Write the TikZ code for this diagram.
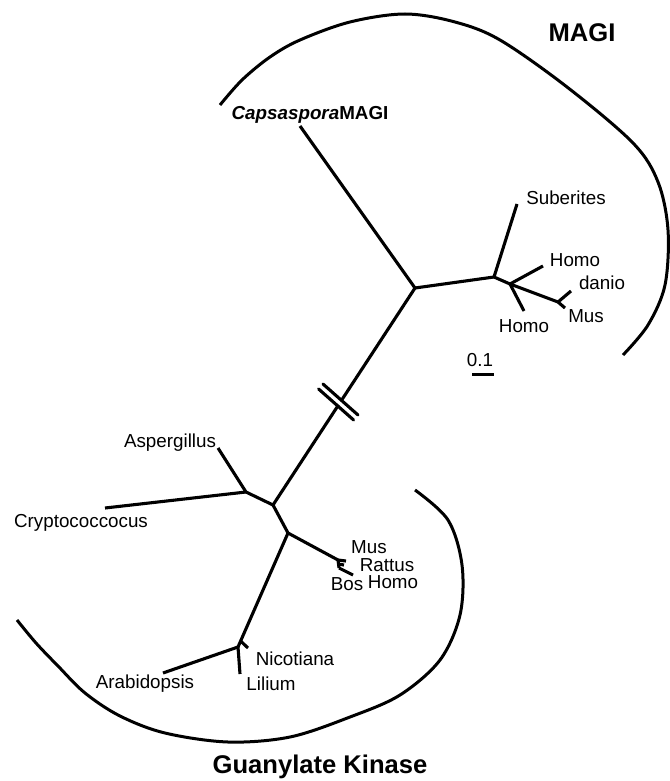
\documentclass[tikz,border=0pt]{standalone}
\usepackage{fontspec}
\setmainfont{Liberation Sans}
\begin{document}
\begin{tikzpicture}[x=1pt,y=-1pt,
  br/.style={line width=3.1pt},
  arcline/.style={line width=3pt},
  lab/.style={inner sep=0pt, font=\fontsize{18.8}{21}\selectfont, text height=13.4pt, text depth=0pt},
  grouplab/.style={inner sep=0pt, font=\fontsize{25.6}{28}\selectfont\bfseries, text height=18.4pt, text depth=0pt}]
\useasboundingbox[fill=white] (0,0) rectangle (669,781);

% ---- tree nodes ----
\coordinate (A) at (415,288);
\coordinate (Ctip) at (300,126);
\coordinate (B) at (494,277);
\coordinate (Stip) at (517,204);
\coordinate (C) at (510,284);
\coordinate (HUtip) at (543,266);
\coordinate (HLtip) at (524,311);
\coordinate (D) at (558,302);
\coordinate (DAtip) at (571,291);
\coordinate (MUtip) at (565,308);
\coordinate (E) at (273,505);
\coordinate (F) at (246,492);
\coordinate (Asptip) at (218,448);
\coordinate (Crtip) at (105,508);
\coordinate (G) at (288,533);
\coordinate (H) at (338,560);
\coordinate (Hm) at (338,564);
\coordinate (H2) at (339,568);
\coordinate (MStip) at (346,561);
\coordinate (RAtip) at (344,565);
\coordinate (BHtip) at (353,575);
\coordinate (I) at (238,647);
\coordinate (N0) at (240.6,641);
\coordinate (Ntip) at (248,648);
\coordinate (Arabtip) at (163,673);
\coordinate (Liltip) at (240,674);

% ---- branches ----
\draw[br] (Ctip) -- (A);
\draw[br] (A) -- (B);
\draw[br] (B) -- (Stip);
\draw[br] (B) -- (C);
\draw[br] (C) -- (HUtip);
\draw[br] (C) -- (HLtip);
\draw[br] (C) -- (D);
\draw[br] (D) -- (DAtip);
\draw[br] (D) -- (MUtip);
\draw[br] (A) -- (E);
\draw[br] (E) -- (F);
\draw[br] (F) -- (Asptip);
\draw[br] (F) -- (Crtip);
\draw[br] (E) -- (G);
\draw[br] (G) -- (H);
\draw[br] (H) -- (MStip);
\draw[br] (H) -- (H2);
\draw[br] (Hm) -- (RAtip);
\draw[br] (H2) -- (BHtip);
\draw[br] (G) -- (I);
\draw[br] (I) -- (Arabtip);
\draw[br] (I) -- (Liltip);
\draw[br] (N0) -- (Ntip);

% ---- break mark ----
\draw[white, line width=4pt] (321,386.5) -- (356,417.5);
\draw[br, line cap=round] (323,384) -- (358,415);
\draw[br, line cap=round] (318.6,389) -- (353.6,420);

% ---- group arcs ----
\draw[arcline] plot[smooth, tension=0.55] coordinates {(220,105) (242,80) (270,57) (300,40) (350,22) (405,14) (455,22) (500,40) (567,87) (633,143) (658,182) (668,230) (665,285) (648,325) (623,355)};
\draw[arcline] plot[smooth, tension=0.55] coordinates {(415,490) (448,520) (462,565) (460,615) (440,660) (400,695) (350,717) (290,737) (228,742) (165,733) (120,716) (85,693) (58,666) (36,643) (17,620)};

% ---- scale bar ----
\node[lab] (scale) at (480,360) {0.1};
\coordinate (sbL) at (472,374);
\coordinate (sbR) at (494,374);
\draw[line width=3pt] (sbL) -- (sbR);

% ---- labels ----
\node[grouplab] (magi) at (582,32) {MAGI};
\node[grouplab] (gk) at (320,764) {Guanylate Kinase};
\node[lab, font=\fontsize{18.8}{21}\selectfont\bfseries] (caps) at (310,113) {\textit{Capsaspora}MAGI};
\node[lab] (sub) at (566,198) {Suberites};
\node[lab] (homo1) at (575,260) {Homo};
\node[lab] (danio) at (602,283) {danio};
\node[lab] (mus1) at (586,316) {Mus};
\node[lab] (homo2) at (524,326) {Homo};
\node[lab] (asp) at (170,441) {Aspergillus};
\node[lab] (cry) at (81,521) {Cryptococcocus};
\node[lab] (mus2) at (369,547) {Mus};
\node[lab] (rat) at (387,565) {Rattus};
\node[lab] (homo3) at (393,582) {Homo};
\node[lab] (bos) at (347,584) {Bos};
\node[lab] (nic) at (295,659) {Nicotiana};
\node[lab] (lil) at (271,684) {Lilium};
\node[lab] (arab) at (145,682) {Arabidopsis};
\end{tikzpicture}
\end{document}
